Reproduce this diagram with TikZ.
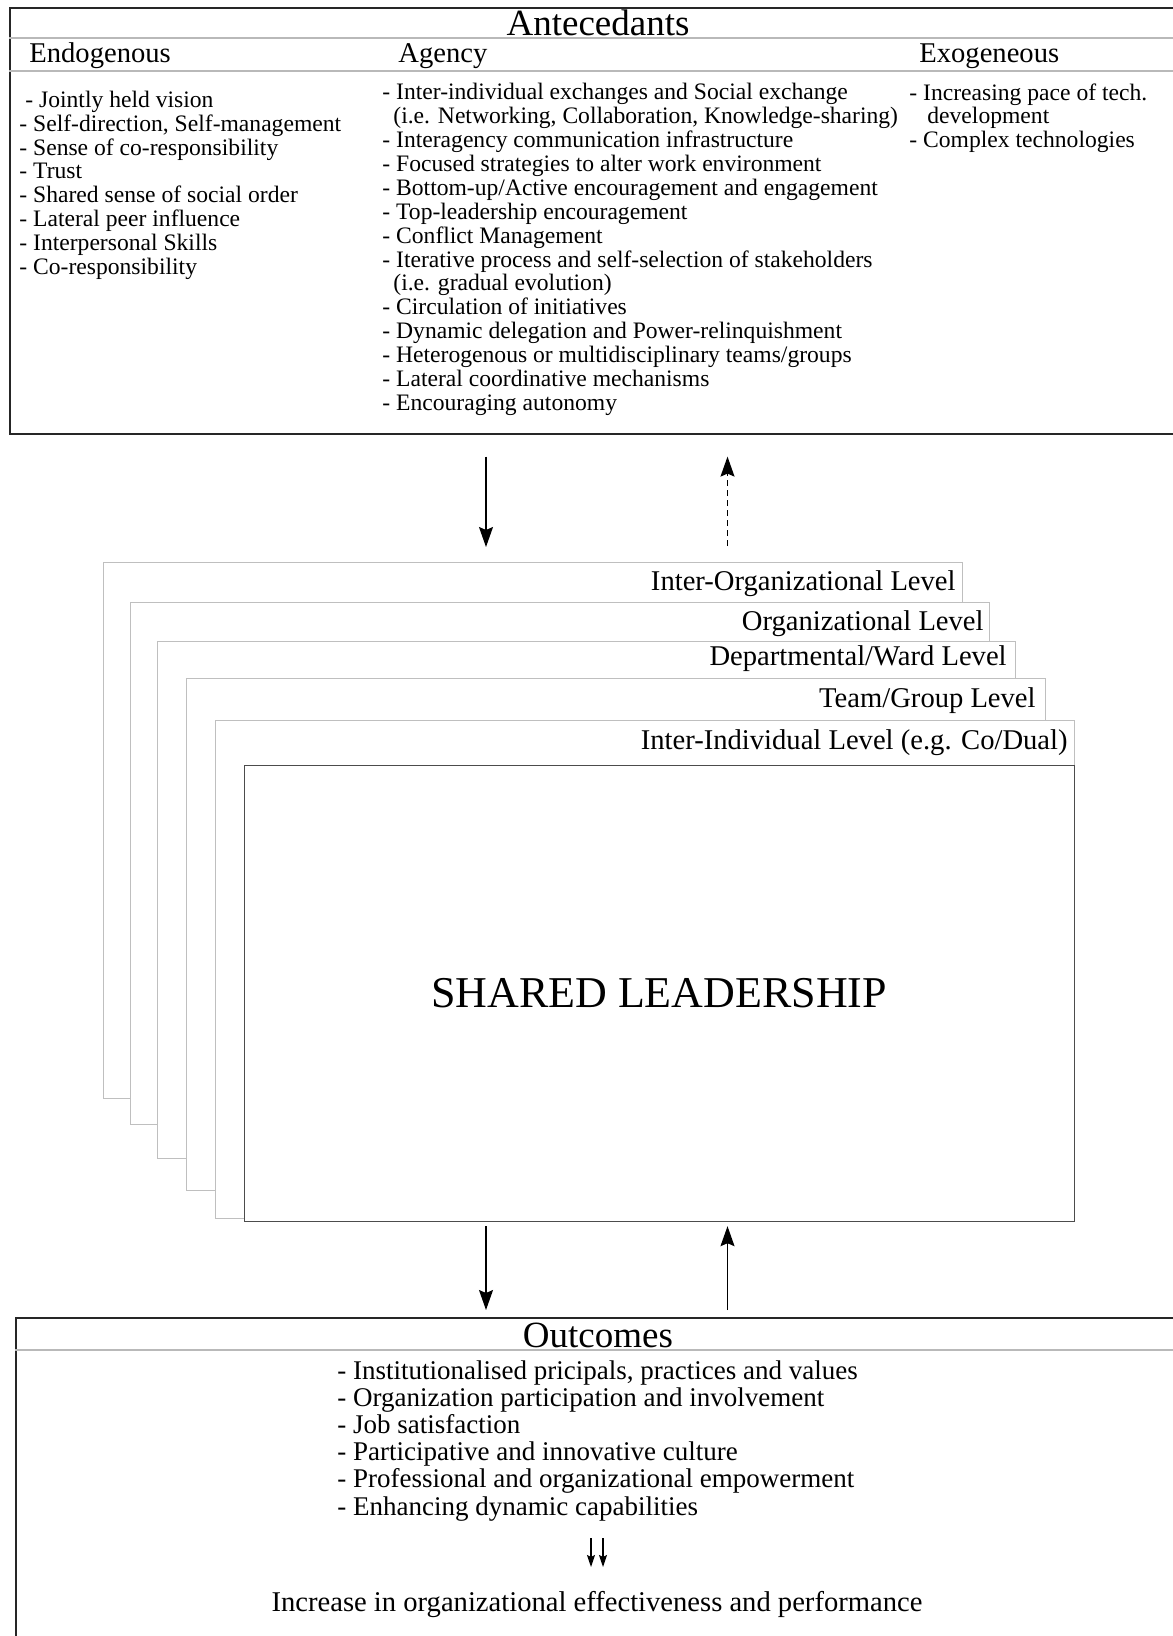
\documentclass[tikz,border=0pt]{standalone}
\usepackage{fontspec}
\setmainfont{Liberation Serif}
\usetikzlibrary{arrows.meta}

\tikzset{
  frame/.style={draw=black!85, line width=0.8pt, inner sep=0pt, anchor=north west},
  sepline/.style={draw=gray!55, line width=0.9pt},
  levelbox/.style={draw=gray!50, fill=white, line width=0.5pt, inner sep=0pt, anchor=north west},
  corebox/.style={draw=black!70, fill=white, line width=0.6pt, inner sep=0pt, anchor=north west},
  heading/.style={font=\fontsize{18.5}{20}\selectfont, inner sep=0pt},
  subhead/.style={font=\fontsize{14.3}{16}\selectfont, inner sep=0pt, anchor=west},
  levellabel/.style={font=\fontsize{14.3}{16}\selectfont, inner sep=0pt, anchor=east},
  itemlist/.style={align=left, inner sep=0pt, anchor=north west, font=\fontsize{11.8}{11.95}\selectfont},
  outlist/.style={align=left, inner sep=0pt, anchor=north west, font=\fontsize{13.5}{13.6}\selectfont},
  flow/.style={-{Stealth[length=10pt,width=7pt,inset=1.5pt]}, line width=0.65pt},
  smallflow/.style={-{Stealth[length=6pt,width=4pt,inset=1pt]}, line width=0.6pt},
}

\begin{document}
\begin{tikzpicture}[x=0.5pt,y=-0.5pt]
\useasboundingbox (0,0) rectangle (1172,1636);

% antecedents
\node[frame, minimum width=585.5pt, minimum height=213pt] (antec) at (9,7) {};
\draw[sepline] ([yshift=-15.5pt]antec.north west) -- ([yshift=-15.5pt]antec.north east);
\draw[sepline] ([yshift=-32pt]antec.north west) -- ([yshift=-32pt]antec.north east);
\node[heading] (antec-title) at (598,23) {Antecedants};
\node[subhead] (endo-head) at (29,56) {Endogenous};
\node[subhead] (agency-head) at (398,56) {Agency};
\node[subhead] (exo-head) at (919,56) {Exogeneous};

\node[itemlist] (endo-list) at (19,90.5) {\hspace*{3pt}- Jointly held vision\\
- Self-direction, Self-management\\
- Sense of co-responsibility\\
- Trust\\
- Shared sense of social order\\
- Lateral peer influence\\
- Interpersonal Skills\\
- Co-responsibility};

\node[itemlist] (agency-list) at (382,83) {- Inter-individual exchanges and Social exchange\\
\hspace*{5.5pt}(i.e. Networking, Collaboration, Knowledge-sharing)\\
- Interagency communication infrastructure\\
- Focused strategies to alter work environment\\
- Bottom-up/Active encouragement and engagement\\
- Top-leadership encouragement\\
- Conflict Management\\
- Iterative process and self-selection of stakeholders\\
\hspace*{5.5pt}(i.e. gradual evolution)\\
- Circulation of initiatives\\
- Dynamic delegation and Power-relinquishment\\
- Heterogenous or multidisciplinary teams/groups\\
- Lateral coordinative mechanisms\\
- Encouraging autonomy};

\node[itemlist] (exo-list) at (909,83) {- Increasing pace of tech.\\
\hspace*{9pt}development\\
- Complex technologies};

% levels
\node[levelbox, minimum width=429.5pt, minimum height=268pt] (interorg) at (103,562) {};
\node[levelbox, minimum width=429.5pt, minimum height=261pt] (org) at (130,602) {};
\node[levelbox, minimum width=429pt, minimum height=258.5pt] (dept) at (157,641) {};
\node[levelbox, minimum width=429.5pt, minimum height=256pt] (team) at (186,678) {};
\node[levelbox, minimum width=429.5pt, minimum height=249pt] (indiv) at (215,720) {};
\node[corebox, minimum width=415pt, minimum height=228pt] (core) at (244,765) {};

\node[levellabel] (interorg-lbl) at (956,584) {Inter-Organizational Level};
\node[levellabel] (org-lbl) at (984,624) {Organizational Level};
\node[levellabel] (dept-lbl) at (1007,659) {Departmental/Ward Level};
\node[levellabel] (team-lbl) at (1036,701) {Team/Group Level};
\node[levellabel] (indiv-lbl) at (1068,743) {Inter-Individual Level (e.g. Co/Dual)};
\node[font=\fontsize{22}{24}\selectfont] (core-lbl) at (659,993) {SHARED LEADERSHIP};

% outcomes
\node[frame, minimum width=582.5pt, minimum height=164pt] (outc) at (15,1317) {};
\draw[sepline] ([yshift=-16.5pt]outc.north west) -- ([yshift=-16.5pt]outc.north east);
\node[heading] (outc-title) at (598,1335) {Outcomes};
\node[outlist] (outc-list) at (337,1360) {- Institutionalised pricipals, practices and values\\
- Organization participation and involvement\\
- Job satisfaction\\
- Participative and innovative culture\\
- Professional and organizational empowerment\\
- Enhancing dynamic capabilities};
\node[subhead, anchor=center] (result) at (597,1604) {Increase in organizational effectiveness and performance};

% connectors
\coordinate (downx) at (486,0);
\coordinate (upx) at (727.5,0);
\draw[flow, shorten <=11pt, shorten >=7.5pt] (antec.south -| downx) -- (interorg.north -| downx);
\draw[flow, dash pattern=on 3pt off 2pt, shorten <=8pt, shorten >=11pt] (interorg.north -| upx) -- (antec.south -| upx);
\draw[flow, shorten <=2pt, shorten >=3.5pt] (core.south -| downx) -- (outc.north -| downx);
\draw[flow, shorten <=3.5pt, shorten >=2pt] (outc.north -| upx) -- (core.south -| upx);

\coordinate (dd1a) at (591,1538);
\coordinate (dd1b) at (591,1567);
\coordinate (dd2a) at (603,1538);
\coordinate (dd2b) at (603,1567);
\draw[smallflow] (dd1a) -- (dd1b);
\draw[smallflow] (dd2a) -- (dd2b);
\end{tikzpicture}
\end{document}
